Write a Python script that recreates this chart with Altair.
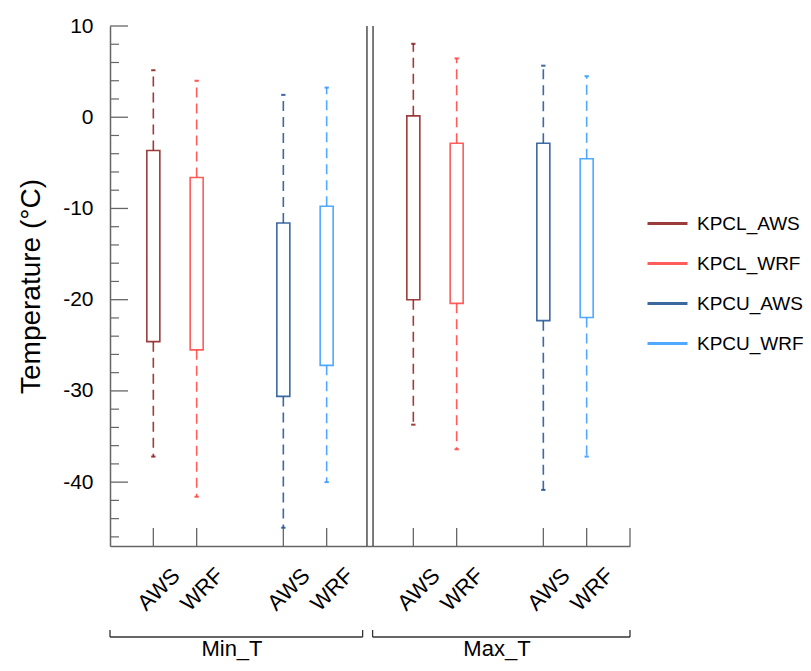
import altair as alt
import pandas as pd

# ---------------- data ----------------
groups = ["Min_T", "Max_T"]
series = ["KPCL_AWS", "KPCL_WRF", "KPCU_AWS", "KPCU_WRF"]
colors = ["#8B1A1A", "#FF4040", "#1A4F8F", "#3399FF"]
source_labels = ["AWS", "WRF", "AWS", "WRF"]

# per group, per series: lower whisker, Q1, median, Q3, upper whisker
min_t_low = [-37.2, -41.6, -45.0, -40.0]
min_t_q1 = [-24.6, -25.5, -30.6, -27.2]
min_t_med = [-16.1, -18.0, -23.2, -19.6]
min_t_q3 = [-3.65, -6.6, -11.6, -9.75]
min_t_high = [5.15, 4.0, 2.45, 3.25]

max_t_low = [-33.7, -36.4, -40.85, -37.2]
max_t_q1 = [-20.0, -20.4, -22.3, -21.95]
max_t_med = [-11.85, -12.3, -13.8, -13.9]
max_t_q3 = [0.15, -2.85, -2.85, -4.55]
max_t_high = [8.05, 6.45, 5.65, 4.5]

y_major = [-40, -30, -20, -10, 0, 10]
y_minor = [v for v in range(-46, 10, 2) if v % 10 != 0]

# ---------------- layout helpers ----------------
slot = [1, 2, 4, 5]          # slot of each series inside a group (6 slots per group)
per_group = 6
half_box = 0.15
half_cap = 0.05

stats = {
    "Min_T": (min_t_low, min_t_q1, min_t_med, min_t_q3, min_t_high),
    "Max_T": (max_t_low, max_t_q1, max_t_med, max_t_q3, max_t_high),
}
rows = []
for gi, g in enumerate(groups):
    lo, q1, med, q3, hi = stats[g]
    for si, s in enumerate(series):
        p = gi * per_group + slot[si]
        rows.append(dict(group=g, series=s, pos=p, xl=p - half_box, xr=p + half_box,
                         cl=p - half_cap, cr=p + half_cap,
                         low=lo[si], q1=q1[si], med=med[si], q3=q3[si], high=hi[si]))
df = pd.DataFrame(rows)

tick_pos = [gi * per_group + s for gi in range(len(groups)) for s in slot]
label_map = {gi * per_group + slot[i]: source_labels[i] for gi in range(len(groups)) for i in range(4)}
label_expr = " : ".join(f"datum.value == {k} ? '{v}'" for k, v in label_map.items()) + " : ''"

W, H = 520, 520
FONT = "Liberation Sans"
XMAX = len(groups) * per_group
xscale = alt.Scale(domain=[0, XMAX], nice=False, zero=False)
yscale = alt.Scale(domain=[-47, 10], nice=False, zero=False)
cscale = alt.Scale(domain=series, range=colors)

base = alt.Chart(df)

x_axis = alt.Axis(values=tick_pos, labelExpr=label_expr, labelAngle=315, labelAlign="center",
                  labelBaseline="middle", labelPadding=43, labelOffset=5, labelFontSize=22,
                  labelFont=FONT, labelColor="black", tickSize=0, grid=False, labelOverlap=False,
                  labelBound=False, labelFlush=False,
                  domainColor="#666666", domainWidth=1.5, title=None)
y_axis = alt.Axis(values=y_major, labelExpr="'' + datum.value", labelFontSize=21, labelFont=FONT,
                  labelColor="black", labelOverlap=False,
                  labelPadding=17, tickSize=0, grid=False, domainColor="#666666",
                  domainWidth=1.5, title="Temperature (°C)", titleFontSize=28,
                  titleFont=FONT, titleFontWeight="normal", titleColor="black", titlePadding=17)

legend = alt.Legend(orient="none", legendX=536, legendY=176, title=None,
                    symbolType="stroke", symbolSize=1600, symbolStrokeWidth=3,
                    symbolOpacity=1, symbolDash=[1, 0],
                    labelFontSize=19, labelFont=FONT, labelColor="black",
                    labelOffset=8, rowPadding=8, padding=0, labelLimit=300)

medians = base.mark_rule(strokeWidth=1.6, opacity=0.85).encode(
    x=alt.X("xl:Q", scale=xscale, axis=x_axis), x2="xr:Q",
    y=alt.Y("med:Q", scale=yscale, axis=y_axis),
    color=alt.Color("series:N", scale=cscale, legend=legend, title=None),
)
whisk_up = base.mark_rule(strokeWidth=1.6, strokeDash=[10, 6], opacity=0.85).encode(
    x=alt.X("pos:Q", scale=xscale), y=alt.Y("q3:Q", scale=yscale), y2="high:Q",
    color=alt.Color("series:N", scale=cscale),
)
whisk_lo = base.mark_rule(strokeWidth=1.6, strokeDash=[10, 6], opacity=0.85).encode(
    x=alt.X("pos:Q", scale=xscale), y=alt.Y("q1:Q", scale=yscale), y2="low:Q",
    color=alt.Color("series:N", scale=cscale),
)
cap_hi = base.mark_rule(strokeWidth=2, opacity=0.85).encode(
    x=alt.X("cl:Q", scale=xscale), x2="cr:Q", y=alt.Y("high:Q", scale=yscale),
    color=alt.Color("series:N", scale=cscale),
)
cap_lo = base.mark_rule(strokeWidth=2, opacity=0.85).encode(
    x=alt.X("cl:Q", scale=xscale), x2="cr:Q", y=alt.Y("low:Q", scale=yscale),
    color=alt.Color("series:N", scale=cscale),
)
boxes = base.mark_rect(fill="white", strokeWidth=1.6, strokeOpacity=0.85).encode(
    x=alt.X("xl:Q", scale=xscale), x2="xr:Q",
    y=alt.Y("q1:Q", scale=yscale), y2="q3:Q",
    stroke=alt.Stroke("series:N", scale=cscale, legend=None),
)

# inward axis ticks
ymaj_df = pd.DataFrame({"v": y_major})
ymin_df = pd.DataFrame({"v": y_minor})
ytick_major = alt.Chart(ymaj_df).mark_rule(color="#666666", strokeWidth=1.3).encode(
    y=alt.Y("v:Q", scale=yscale), x=alt.value(0), x2=alt.value(18))
ytick_minor = alt.Chart(ymin_df).mark_rule(color="#666666", strokeWidth=1.2).encode(
    y=alt.Y("v:Q", scale=yscale), x=alt.value(0), x2=alt.value(9))
xt_df = pd.DataFrame({"v": tick_pos + [XMAX]})
xtick = alt.Chart(xt_df).mark_rule(color="#666666", strokeWidth=1.3).encode(
    x=alt.X("v:Q", scale=xscale), y=alt.value(H), y2=alt.value(H - 18))

# double separator lines between groups
sep_df = pd.DataFrame({"v": [per_group - 0.07, per_group + 0.07]})
sep = alt.Chart(sep_df).mark_rule(color="#333333", strokeWidth=1.3).encode(
    x=alt.X("v:Q", scale=xscale), y=alt.value(0), y2=alt.value(H))

# group brackets and names
br_df = pd.DataFrame({"group": groups,
                      "s": [gi * per_group + (0.0 if gi == 0 else 0.06) for gi in range(len(groups))],
                      "e": [gi * per_group + (5.83 if gi == 0 else 6.0) for gi in range(len(groups))]})
br_df["c"] = (br_df["s"] + br_df["e"]) / 2 - 0.1
br_h = alt.Chart(br_df).mark_rule(color="#333333", strokeWidth=1.3).encode(
    x=alt.X("s:Q", scale=xscale), x2="e:Q", y=alt.value(H + 91))
br_l = alt.Chart(br_df).mark_rule(color="#333333", strokeWidth=1.3).encode(
    x=alt.X("s:Q", scale=xscale), y=alt.value(H + 84), y2=alt.value(H + 91))
br_r = alt.Chart(br_df).mark_rule(color="#333333", strokeWidth=1.3).encode(
    x=alt.X("e:Q", scale=xscale), y=alt.value(H + 84), y2=alt.value(H + 91))
br_t = alt.Chart(br_df).mark_text(fontSize=22, font=FONT, color="black", baseline="alphabetic").encode(
    x=alt.X("c:Q", scale=xscale), y=alt.value(H + 110), text="group:N")

chart = alt.layer(
    medians, whisk_up, whisk_lo, cap_hi, cap_lo, boxes,
    ytick_major, ytick_minor, xtick, sep, br_h, br_l, br_r, br_t,
).properties(
    width=W, height=H,
    autosize=alt.AutoSizeParams(type="none"),
    padding={"left": 102, "top": 18, "right": 173, "bottom": 117},
).configure(background="white").configure_view(stroke=None)

chart.save("out.html", embed_options={"renderer": "svg", "actions": False})
